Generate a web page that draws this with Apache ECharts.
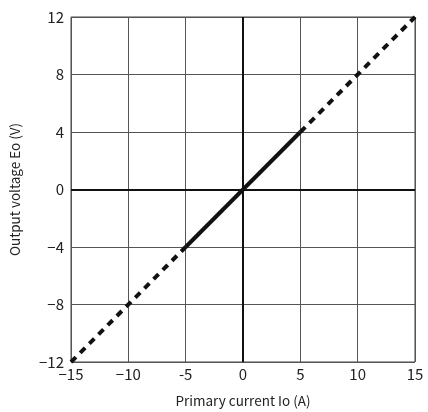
<!DOCTYPE html>
<html>
<head>
<meta charset="utf-8">
<script src="https://cdn.jsdelivr.net/npm/echarts@6/dist/echarts.min.js"></script>
<style>
html, body { margin: 0; padding: 0; background: #fff; }
#main { width: 428px; height: 412px; }
</style>
</head>
<body>
<div id="main"></div>
<script>
var solidX = [-5, 5];
var solidY = [-4, 4];
var dashLowX = [-15, -5];
var dashLowY = [-12, -4];
var dashHighX = [5, 15];
var dashHighY = [4, 12];
var xTickLabels = { '-15': '\u221215', '-10': '\u221210', '-5': '-5', '0': '0', '5': '5', '10': '10', '15': '15' };
var yTickLabels = { '-12': '\u221212', '-8': '\u22128', '-4': '\u22124', '0': '0', '4': '4', '8': '8', '12': '12' };

function pairs(xs, ys) {
	return xs.map(function (x, i) { return [x, ys[i]]; });
}

var chartDom = document.getElementById('main');
var myChart = echarts.init(chartDom);
var textColor = '#222';
var font = '"Noto Sans CJK JP", "Noto Sans", sans-serif';
var option;

option = {
	animation: false,
	grid: {
		left: 71,
		right: 13,
		top: 17,
		bottom: 50,
		outerBoundsMode: 'none',
		show: true,
		borderColor: '#444',
		borderWidth: 1
	},
	xAxis: {
		type: 'value',
		min: -15,
		max: 15,
		interval: 5,
		name: 'Primary current Io (A)',
		nameLocation: 'middle',
		nameGap: 32,
		nameTextStyle: { color: textColor, fontSize: 13.5, fontFamily: font },
		axisLine: { show: false },
		axisTick: { show: false },
		axisLabel: {
			color: textColor,
			fontSize: 15,
			fontFamily: font,
			margin: 5,
			formatter: function (v) { return xTickLabels[String(v)]; }
		},
		splitLine: { show: true, lineStyle: { color: '#555', width: 1 } }
	},
	yAxis: {
		type: 'value',
		min: -12,
		max: 12,
		interval: 4,
		name: 'Output voltage Eo (V)',
		nameLocation: 'middle',
		nameGap: 49,
		nameTextStyle: { color: textColor, fontSize: 13.5, fontFamily: font },
		axisLine: { show: false },
		axisTick: { show: false },
		axisLabel: {
			color: textColor,
			fontSize: 15,
			fontFamily: font,
			margin: 7,
			formatter: function (v) { return yTickLabels[String(v)]; }
		},
		splitLine: { show: true, lineStyle: { color: '#555', width: 1 } }
	},
	series: [
		{
			type: 'line',
			data: pairs(solidX, solidY),
			symbol: 'none',
			lineStyle: { color: '#111', width: 4 },
			markLine: {
				silent: true,
				symbol: 'none',
				label: { show: false },
				lineStyle: { color: '#111', width: 2, type: 'solid' },
				data: [{ xAxis: 0 }, { yAxis: 0 }]
			},
			z: 3
		},
		{
			type: 'line',
			data: pairs(dashLowX, dashLowY),
			symbol: 'none',
			lineStyle: { color: '#111', width: 4, type: [7, 6] },
			z: 3
		},
		{
			type: 'line',
			data: pairs(dashHighX, dashHighY),
			symbol: 'none',
			lineStyle: { color: '#111', width: 4, type: [7, 6] },
			z: 3
		}
	]
};

option && myChart.setOption(option);
</script>
</body>
</html>
